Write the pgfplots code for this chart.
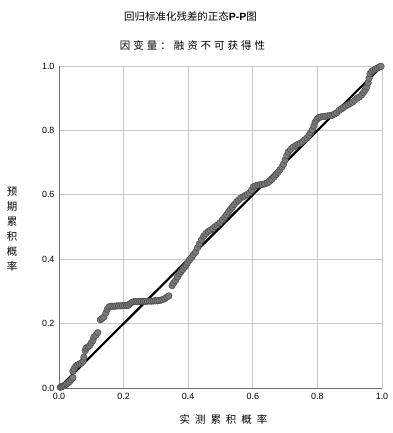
\documentclass[border=0pt]{standalone}
\usepackage{fontspec}
\setmainfont{Liberation Sans}
\newfontfamily\cjk{Noto Sans CJK SC}
\usepackage{pgfplots}
\pgfplotsset{compat=1.18}
\definecolor{gridc}{HTML}{C8C8C8}
\definecolor{axc}{HTML}{707070}
\definecolor{markc}{HTML}{7A7A7A}
\begin{document}
\begin{tikzpicture}
\useasboundingbox (-59bp,-45bp) rectangle (334bp,388bp);
\begin{axis}[
  at={(0,0)}, anchor=south west,
  scale only axis, width=323bp, height=322bp,
  xmin=0, xmax=1, ymin=0, ymax=1,
  axis lines=left, axis line style={-, draw=axc, line width=0.9pt},
  grid=major, major grid style={gridc, line width=0.8pt},
  xtick={0,0.2,0.4,0.6,0.8,1.0}, ytick={0,0.2,0.4,0.6,0.8,1.0},
  major tick length=0pt,
  xticklabel style={font=\fontsize{9}{10}\selectfont, yshift=-2bp},
  yticklabel style={font=\fontsize{9}{10}\selectfont, xshift=-1bp},
  /pgf/number format/assume math mode=true,
  /pgf/number format/.cd, fixed, fixed zerofill, precision=1,
  /pgfplots/.cd,
  clip=false,
]
\addplot[only marks, mark=*, mark size=3.3bp, mark options={fill=markc, draw=black!75, line width=0.4pt}] coordinates {
(0.004,0.002)(0.008,0.004)(0.012,0.006)(0.016,0.008)(0.020,0.010)(0.024,0.013)(0.028,0.016)(0.033,0.020)(0.038,0.026)(0.043,0.032)
(0.043,0.052)(0.047,0.060)(0.052,0.068)(0.058,0.072)(0.064,0.075)(0.070,0.078)(0.075,0.084)(0.077,0.096)(0.081,0.116)(0.084,0.124)
(0.090,0.128)(0.095,0.132)(0.100,0.140)(0.105,0.148)(0.108,0.158)(0.114,0.164)(0.120,0.172)(0.128,0.212)(0.133,0.216)(0.139,0.220)
(0.145,0.233)(0.150,0.245)(0.155,0.252)(0.161,0.254)(0.167,0.254)(0.173,0.254)(0.179,0.255)(0.185,0.255)(0.191,0.255)(0.197,0.256)
(0.203,0.256)(0.209,0.256)(0.215,0.257)(0.220,0.262)(0.226,0.266)(0.232,0.268)(0.238,0.268)(0.244,0.268)(0.250,0.269)(0.256,0.269)
(0.262,0.269)(0.268,0.269)(0.274,0.270)(0.280,0.270)(0.286,0.270)(0.292,0.270)(0.298,0.271)(0.304,0.271)(0.310,0.272)(0.316,0.273)
(0.322,0.275)(0.328,0.278)(0.334,0.282)(0.340,0.286)(0.350,0.318)(0.355,0.326)(0.361,0.334)(0.367,0.345)(0.373,0.355)(0.378,0.362)
(0.383,0.368)(0.389,0.375)(0.394,0.382)(0.398,0.390)(0.404,0.398)(0.410,0.405)(0.416,0.414)(0.423,0.422)(0.429,0.436)(0.435,0.448)
(0.441,0.460)(0.448,0.472)(0.455,0.480)(0.462,0.486)(0.469,0.490)(0.476,0.495)(0.483,0.501)(0.490,0.506)(0.498,0.513)(0.506,0.522)
(0.513,0.530)(0.519,0.538)(0.525,0.547)(0.531,0.555)(0.537,0.562)(0.543,0.570)(0.550,0.578)(0.556,0.584)(0.563,0.590)(0.570,0.594)
(0.577,0.598)(0.583,0.601)(0.590,0.606)(0.596,0.614)(0.602,0.625)(0.609,0.628)(0.616,0.630)(0.623,0.631)(0.630,0.632)(0.637,0.634)
(0.645,0.637)(0.652,0.642)(0.659,0.648)(0.666,0.655)(0.672,0.663)(0.678,0.670)(0.684,0.678)(0.690,0.686)(0.695,0.695)(0.700,0.708)
(0.705,0.722)(0.710,0.733)(0.717,0.741)(0.725,0.748)(0.733,0.753)(0.740,0.757)(0.747,0.760)(0.754,0.765)(0.761,0.771)(0.768,0.777)
(0.774,0.785)(0.779,0.793)(0.784,0.801)(0.789,0.814)(0.793,0.826)(0.799,0.835)(0.805,0.840)(0.811,0.842)(0.818,0.843)(0.825,0.844)
(0.832,0.845)(0.839,0.846)(0.846,0.847)(0.853,0.851)(0.860,0.855)(0.867,0.862)(0.874,0.867)(0.881,0.871)(0.888,0.876)(0.895,0.880)
(0.902,0.884)(0.909,0.888)(0.916,0.894)(0.923,0.900)(0.930,0.904)(0.937,0.910)(0.943,0.918)(0.948,0.926)(0.953,0.936)(0.957,0.948)
(0.960,0.962)(0.963,0.976)(0.968,0.983)(0.974,0.987)(0.980,0.990)(0.986,0.994)(0.992,0.997)(0.997,0.999)
};
\addplot[black, line width=2.2pt] coordinates {(0,0) (1,1)};
\end{axis}
\node[font=\cjk\fontsize{10.5}{12}\selectfont] at (131.5bp,371bp) {回归标准化残差的正态{\fontspec{Liberation Sans}\bfseries P-P}图};
\node[font=\cjk\fontsize{10.5}{12}\selectfont] at (133.5bp,343bp) {因\hspace{3bp}变\hspace{3bp}量\hspace{3bp}：\hspace{3bp}融\hspace{3bp}资\hspace{3bp}不\hspace{3bp}可\hspace{3bp}获\hspace{3bp}得\hspace{3bp}性};
\node[font=\cjk\fontsize{10.5}{12}\selectfont] at (164.5bp,-32bp) {实\hspace{5bp}测\hspace{5bp}累\hspace{5bp}积\hspace{5bp}概\hspace{5bp}率};
\node[font=\cjk\fontsize{10.5}{15}\selectfont, align=center] at (-47bp,158.5bp) {预\\期\\累\\积\\概\\率};
\end{tikzpicture}
\end{document}
